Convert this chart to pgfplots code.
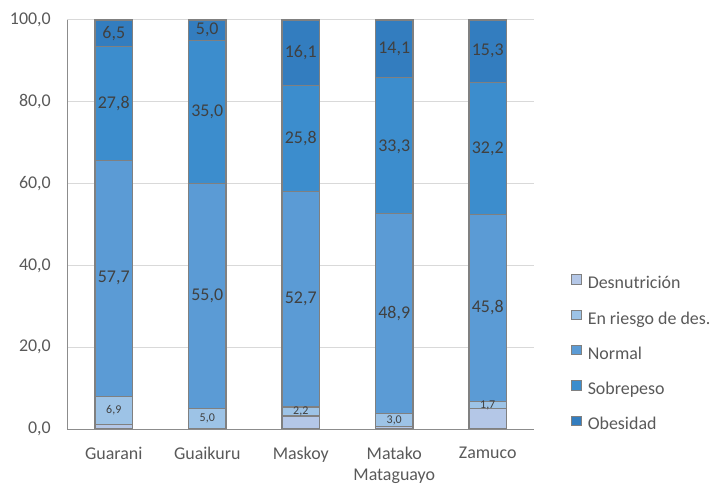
\documentclass[border=0pt]{standalone}
\usepackage{fontspec}
\setmainfont{Carlito}
\usepackage{pgfplots}
\pgfplotsset{compat=1.18}
\definecolor{cDes}{HTML}{B4C7E7}
\definecolor{cRie}{HTML}{9DC3E6}
\definecolor{cNor}{HTML}{5B9BD5}
\definecolor{cSob}{HTML}{3C8DCD}
\definecolor{cObe}{HTML}{337DBF}
\definecolor{cBor}{HTML}{808080}
\definecolor{cGrid}{HTML}{D9D9D9}
\definecolor{cAxis}{HTML}{8C8C8C}
\definecolor{cTick}{HTML}{595959}
\definecolor{cLab}{HTML}{404040}
\begin{document}
\begin{tikzpicture}
\path[use as bounding box] (0,0) rectangle (714bp,484bp);
\begin{axis}[
  at={(67bp,55bp)}, anchor=south west,
  scale only axis, width=467.5bp, height=409bp,
  xmin=-0.5, xmax=4.5, ymin=0, ymax=100,
  ybar stacked, bar width=37.5bp,
  xtick={0,1,2,3,4},
  xticklabels={Guarani,Guaikuru,Maskoy,{Matako\\Mataguayo},Zamuco},
  ytick={0,20,40,60,80,100},
  yticklabel={\pgfmathprintnumber[assume math mode=true,use comma,fixed,fixed zerofill,precision=1]{\tick}},
  ymajorgrids, grid style={draw=cGrid, line width=1bp},
  axis x line*=bottom, axis y line*=left,
  axis line style={draw=cAxis, line width=1bp, -},
  major tick length=0pt, tick style={draw=none},
  y tick label style={font=\fontsize{18}{21}\selectfont, text=cTick, inner sep=0pt, anchor=east, xshift=-16bp},
  x tick label style={font=\fontsize{18}{21}\selectfont, text=cTick, inner sep=0pt, anchor=north, yshift=-18bp, align=center},
  legend cell align=left,
  legend image code/.code={\draw[#1, draw=cBor, line width=0.8bp] (0bp,0bp) rectangle (10bp,9.5bp);},
  legend style={draw=none, fill=none, at={(axis description cs:1.078,0.378)}, anchor=north west,
    inner sep=0pt, outer sep=0pt, row sep=16.9bp, column sep=6bp,
    nodes={inner sep=0pt, text height=13bp, text depth=4bp, font=\fontsize{18}{21}\selectfont, text=cTick}},
]
\addplot[fill=cDes, draw=cBor, line width=1.2bp] coordinates {(0,1.1) (1,0) (2,3.2) (3,0.7) (4,5.0)};
\addlegendentry{Desnutrición}
\addplot[fill=cRie, draw=cBor, line width=1.2bp] coordinates {(0,6.9) (1,5.0) (2,2.2) (3,3.0) (4,1.7)};
\addlegendentry{En riesgo de des.}
\addplot[fill=cNor, draw=cBor, line width=1.2bp] coordinates {(0,57.7) (1,55.0) (2,52.7) (3,48.9) (4,45.8)};
\addlegendentry{Normal}
\addplot[fill=cSob, draw=cBor, line width=1.2bp] coordinates {(0,27.8) (1,35.0) (2,25.8) (3,33.3) (4,32.2)};
\addlegendentry{Sobrepeso}
\addplot[fill=cObe, draw=cBor, line width=1.2bp] coordinates {(0,6.5) (1,5.0) (2,16.1) (3,14.1) (4,15.3)};
\addlegendentry{Obesidad}
\end{axis}
\begin{axis}[
  at={(67bp,55bp)}, anchor=south west,
  scale only axis, width=467.5bp, height=409bp,
  xmin=-0.5, xmax=4.5, ymin=0, ymax=100,
  hide axis, clip=false,
]
\addplot[only marks, mark=*, mark size=0pt, mark options={draw=none,fill=none},
  point meta=explicit,
  nodes near coords={\pgfmathprintnumber[assume math mode=true,use comma,fixed,fixed zerofill,precision=1]{\pgfplotspointmeta}},
  every node near coord/.append style={anchor=center, inner sep=0pt, font=\fontsize{18}{21}\selectfont, text=cLab}]
  table[meta=v] {
x y v
0 36.85 57.7
1 32.5 55.0
2 31.75 52.7
3 28.15 48.9
4 29.6 45.8
0 79.6 27.8
1 77.5 35.0
2 71.0 25.8
3 68.95 33.3
4 68.6 32.2
0 96.75 6.5
1 97.5 5.0
2 91.95 16.1
3 92.95 14.1
4 92.35 15.3
};
\addplot[only marks, mark=*, mark size=0pt, mark options={draw=none,fill=none},
  point meta=explicit,
  nodes near coords={\pgfmathprintnumber[assume math mode=true,use comma,fixed,fixed zerofill,precision=1]{\pgfplotspointmeta}},
  every node near coord/.append style={anchor=center, inner sep=0pt, font=\fontsize{12}{14}\selectfont, text=cLab}]
  table[meta=v] {
x y v
0 4.55 6.9
1 2.5 5.0
2 4.3 2.2
3 2.2 3.0
4 5.85 1.7
};
\end{axis}
\end{tikzpicture}
\end{document}
